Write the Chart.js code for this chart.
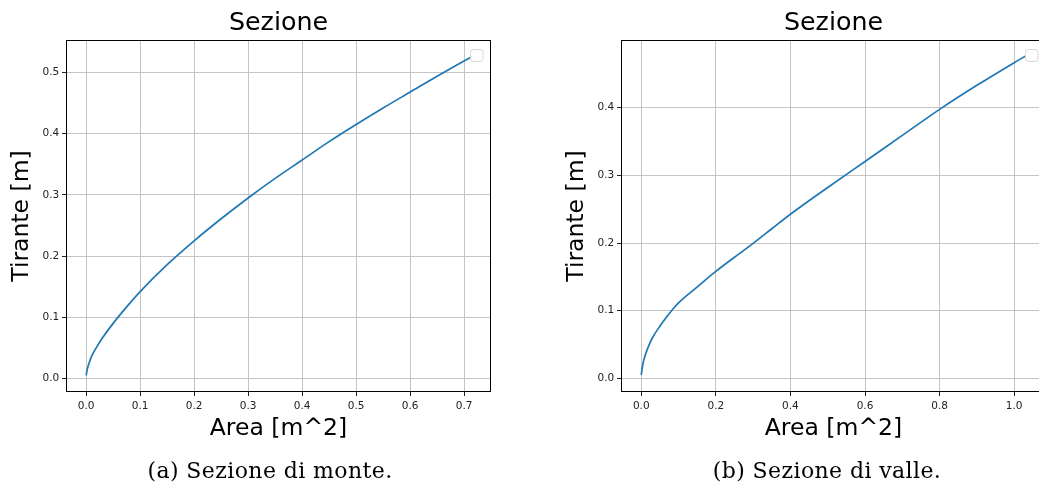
<!DOCTYPE html>
<html>
<head>
<meta charset="utf-8">
<script src="https://cdn.jsdelivr.net/npm/chart.js@4.4.1/dist/chart.umd.min.js"></script>
<style>
  html, body { margin: 0; padding: 0; background: #fff; overflow: hidden; width: 1039px; height: 489px; }
  canvas { position: absolute; top: 0; }
  #cvMonte { left: 0; }
  #cvValle { left: 520px; }
  .caption {
    position: absolute; top: 460px; width: 400px; text-align: center;
    font-family: "DejaVu Serif", serif; font-size: 22px; line-height: 22px;
    letter-spacing: 0.4px; color: #000; white-space: nowrap;
  }
</style>
</head>
<body>
<canvas id="cvMonte" width="520" height="489"></canvas>
<canvas id="cvValle" width="555" height="489"></canvas>
<div class="caption" style="left:70px">(a) Sezione di monte.</div>
<div class="caption" style="left:627px">(b) Sezione di valle.</div>
<script>
// Sezione di monte: area bagnata [m^2] e tirante [m]
const areaMonte = [0, 0.002, 0.005, 0.01, 0.02, 0.03, 0.05, 0.075, 0.1, 0.15, 0.2, 0.25,
                   0.3, 0.35, 0.4, 0.45, 0.5, 0.55, 0.6, 0.65, 0.7, 0.715];
const tiranteMonte = [0.005, 0.015, 0.024, 0.036, 0.052, 0.066, 0.090, 0.117, 0.142, 0.186, 0.225, 0.261,
                      0.295, 0.327, 0.357, 0.387, 0.415, 0.442, 0.468, 0.494, 0.519, 0.526];

// Sezione di valle
const areaValle = [0, 0.004, 0.01, 0.02, 0.03, 0.05, 0.07, 0.085, 0.1, 0.12, 0.14, 0.17,
                   0.2, 0.25, 0.3, 0.35, 0.4, 0.5, 0.6, 0.7, 0.8, 0.9, 1.0, 1.031];
const tiranteValle = [0.005, 0.020, 0.033, 0.048, 0.060, 0.077, 0.092, 0.1025, 0.1115, 0.1215, 0.1305, 0.1445,
                      0.158, 0.179, 0.1995, 0.221, 0.2425, 0.282, 0.3205, 0.359, 0.3975, 0.433, 0.4665, 0.4765];

// Axis ranges and tick steps
const xRangeMonte = [-0.0355, 0.748];
const yRangeMonte = [-0.0205, 0.5515];
const xRangeValle = [-0.0516, 1.0826];
const yRangeValle = [-0.0187, 0.4985];
const xStepMonte = 0.1, yStepMonte = 0.1;
const xStepValle = 0.2, yStepValle = 0.1;

const chartTitle = 'Sezione';
const xLabel = 'Area [m^2]';
const yLabel = 'Tirante [m]';

const lineColor = '#1f77b4';
const gridColor = '#c4c4c4';

// Full frame around the plot area plus the small empty legend box in the corner
const framePlugin = {
  id: 'frame',
  afterDraw(chart) {
    const {ctx, chartArea: a} = chart;
    ctx.save();
    // empty legend frame
    const w = 12.5, h = 12, r = 3;
    const bx = a.right - 7 - w, by = a.top + 8.5;
    ctx.beginPath();
    ctx.roundRect(bx, by, w, h, r);
    ctx.fillStyle = 'rgba(255,255,255,0.85)';
    ctx.fill();
    ctx.strokeStyle = '#d6d6d6';
    ctx.lineWidth = 1;
    ctx.stroke();
    // spines
    ctx.strokeStyle = '#000';
    ctx.lineWidth = 1;
    const l = Math.round(a.left) - 0.5, t = Math.round(a.top) - 0.5;
    const rr = Math.round(a.right) + 0.5, b = Math.round(a.bottom) + 0.5;
    ctx.strokeRect(l, t, rr - l, b - t);
    ctx.restore();
  }
};

function makeChart(canvasId, xs, ys, xRange, yRange, xStep, yStep, padLeft) {
  const points = xs.map((x, i) => ({x: x, y: ys[i]}));
  return new Chart(document.getElementById(canvasId), {
    type: 'scatter',
    data: {
      datasets: [{
        data: points,
        showLine: true,
        borderColor: lineColor,
        backgroundColor: lineColor,
        borderWidth: 1.7,
        pointRadius: 0,
        cubicInterpolationMode: 'monotone'
      }]
    },
    options: {
      responsive: false,
      animation: false,
      devicePixelRatio: 1,
      layout: { padding: { left: padLeft, right: 30, top: 0, bottom: 0 } },
      plugins: {
        legend: { display: false },
        tooltip: { enabled: false },
        title: {
          display: true,
          text: chartTitle,
          fullSize: false,
          color: '#000',
          font: { family: 'DejaVu Sans', size: 25.3, weight: 'normal', lineHeight: 1.2 },
          padding: { top: 7.8, bottom: 2.84 }
        }
      },
      scales: {
        x: {
          type: 'linear',
          min: xRange[0],
          max: xRange[1],
          afterFit(scale) { scale.height = 98; },
          border: { display: false },
          grid: { color: gridColor, lineWidth: 1, tickColor: '#222', tickLength: 5, tickWidth: 1 },
          ticks: {
            stepSize: xStep,
            includeBounds: false,
            maxRotation: 0,
            autoSkip: false,
            padding: 3.5,
            color: '#222',
            font: { family: 'DejaVu Sans', size: 10.5, lineHeight: 1.2 },
            callback: v => Number(v).toFixed(1)
          },
          title: {
            display: true,
            text: xLabel,
            color: '#000',
            font: { family: 'DejaVu Sans', size: 23.5, lineHeight: 1.2 },
            padding: { top: 0, bottom: 45.9 }
          }
        },
        y: {
          type: 'linear',
          min: yRange[0],
          max: yRange[1],
          afterFit(scale) { scale.width = 67; },
          border: { display: false },
          grid: { color: gridColor, lineWidth: 1, tickColor: '#222', tickLength: 5, tickWidth: 1 },
          ticks: {
            stepSize: yStep,
            includeBounds: false,
            autoSkip: false,
            padding: 2.7,
            color: '#222',
            font: { family: 'DejaVu Sans', size: 10.5, lineHeight: 1.2 },
            callback: v => Number(v).toFixed(1)
          },
          title: {
            display: true,
            text: yLabel,
            color: '#000',
            font: { family: 'DejaVu Sans', size: 23.5, lineHeight: 1.2 },
            padding: { top: 8, bottom: 0 }
          }
        }
      }
    },
    plugins: [framePlugin]
  });
}

makeChart('cvMonte', areaMonte, tiranteMonte, xRangeMonte, yRangeMonte, xStepMonte, yStepMonte, 0);
makeChart('cvValle', areaValle, tiranteValle, xRangeValle, yRangeValle, xStepValle, yStepValle, 35);
</script>
</body>
</html>
